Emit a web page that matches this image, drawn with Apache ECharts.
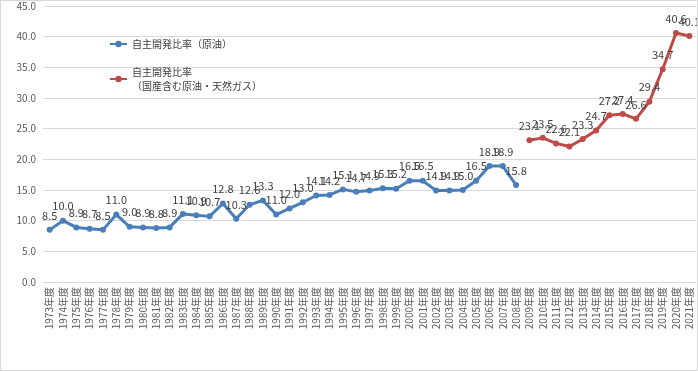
<!DOCTYPE html>
<html><head><meta charset="utf-8">
<script src="https://cdn.jsdelivr.net/npm/echarts@6/dist/echarts.min.js"></script>
<style>html,body{margin:0;padding:0;background:#fff}#c{width:696px;height:369px;border:1px solid #d9d9d9}</style>
</head><body><div id="c"></div>
<script>
const years = [];
for (let y = 1973; y <= 2021; y++) years.push(y + '年度');
const oilValues = [8.5,10.0,8.9,8.7,8.5,11.0,9.0,8.9,8.8,8.9,11.1,10.9,10.7,12.8,10.3,12.6,13.3,11.0,12.0,13.0,14.1,14.2,15.1,14.7,14.9,15.3,15.2,16.5,16.5,14.9,14.9,15.0,16.5,18.9,18.9,15.8];
const oilGasValues = [23.1,23.5,22.6,22.1,23.3,24.7,27.2,27.4,26.6,29.4,34.7,40.6,40.1];
const oilName = '自主開発比率（原油）';
const oilGasName = '自主開発比率\n（国産含む原油・天然ガス）';

const blueData = years.map((_, i) => i < oilValues.length ? oilValues[i] : '-');
const redData = years.map((_, i) => i >= oilValues.length ? oilGasValues[i - oilValues.length] : '-');

const font = '"Noto Sans CJK JP", "Liberation Sans", sans-serif';
const chart = echarts.init(document.getElementById('c'));
chart.setOption({
  animation: false,
  textStyle: {fontFamily: font},
  grid: {left: 42, right: 1, top: 5, bottom: 88},
  legend: {
    orient: 'vertical', left: 103, top: 31, itemGap: 14,
    itemWidth: 17, itemHeight: 8,
    textStyle: {fontSize: 10, color: '#404040', fontFamily: font, lineHeight: 14},
    data: [oilName, oilGasName]
  },
  xAxis: {
    type: 'category', data: years, boundaryGap: true,
    axisLine: {show: false}, axisTick: {show: false},
    axisLabel: {rotate: 90, interval: 0, fontSize: 10, color: '#595959', margin: 5, fontFamily: font}
  },
  yAxis: {
    type: 'value', min: 0, max: 45, interval: 5,
    axisLabel: {formatter: v => v.toFixed(1), fontSize: 10, color: '#595959', margin: 7},
    splitLine: {lineStyle: {color: '#d9d9d9', width: 1}},
    axisLine: {show: false}, axisTick: {show: false}
  },
  series: [
    {name: oilName, type: 'line', data: blueData, symbol: 'circle', symbolSize: 6,
     lineStyle: {width: 3, color: '#4a7ebb'}, itemStyle: {color: '#4a7ebb'},
     label: {show: true, position: 'top', fontSize: 11, color: '#404040', distance: 6, formatter: p => p.value.toFixed(1)}},
    {name: oilGasName, type: 'line', data: redData, symbol: 'circle', symbolSize: 6,
     lineStyle: {width: 3, color: '#be4b48'}, itemStyle: {color: '#be4b48'},
     label: {show: true, position: 'top', fontSize: 11, color: '#404040', distance: 6, formatter: p => p.value.toFixed(1)}}
  ]
});
</script></body></html>
